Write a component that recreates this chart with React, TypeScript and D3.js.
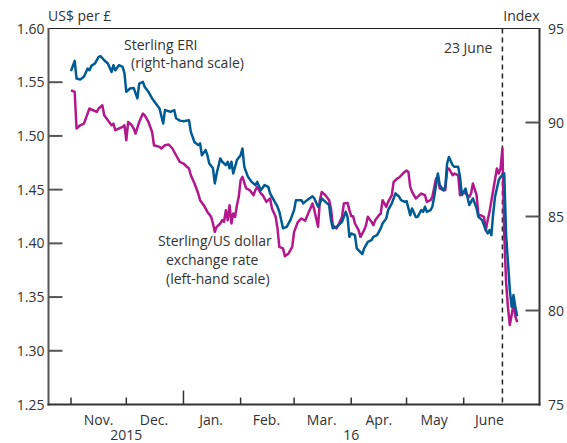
import React from "react";
import * as d3 from "d3";

// Sterling ERI (right-hand scale, index)
const eriData: [string, number][] = [
  ["2015-11-01", 92.73], ["2015-11-03", 93.28], ["2015-11-04", 92.34], ["2015-11-06", 92.29],
  ["2015-11-08", 92.43], ["2015-11-10", 92.87], ["2015-11-11", 92.78], ["2015-11-12", 93.01],
  ["2015-11-14", 93.14], ["2015-11-16", 93.49], ["2015-11-17", 93.53], ["2015-11-19", 93.31],
  ["2015-11-21", 93.14], ["2015-11-23", 92.69], ["2015-11-24", 93.05], ["2015-11-25", 92.78],
  ["2015-11-27", 93.05], ["2015-11-29", 92.96], ["2015-11-30", 92.61], ["2015-12-01", 91.63],
  ["2015-12-03", 91.81], ["2015-12-05", 91.84], ["2015-12-07", 91.28], ["2015-12-08", 92.07],
  ["2015-12-10", 92.16], ["2015-12-11", 91.89], ["2015-12-13", 91.63], ["2015-12-15", 91.28],
  ["2015-12-17", 91.01], ["2015-12-19", 90.75], ["2015-12-21", 89.95], ["2015-12-22", 90.66],
  ["2015-12-25", 90.57], ["2015-12-27", 90.66], ["2015-12-28", 90.23], ["2015-12-30", 90.1],
  ["2016-01-01", 90.07], ["2016-01-04", 90.12], ["2016-01-05", 89.5], ["2016-01-07", 88.95],
  ["2016-01-09", 88.8], ["2016-01-10", 88.89], ["2016-01-11", 88.26], ["2016-01-13", 88.53],
  ["2016-01-14", 88.26], ["2016-01-15", 87.82], ["2016-01-17", 87.56], ["2016-01-18", 86.76],
  ["2016-01-19", 87.29], ["2016-01-21", 88.09], ["2016-01-22", 87.91], ["2016-01-24", 87.73],
  ["2016-01-25", 87.91], ["2016-01-26", 87.56], ["2016-01-27", 87.91], ["2016-01-28", 87.29],
  ["2016-01-30", 88.0], ["2016-02-01", 88.26], ["2016-02-02", 88.62], ["2016-02-03", 87.64],
  ["2016-02-05", 87.11], ["2016-02-07", 86.84], ["2016-02-09", 86.67], ["2016-02-10", 86.84],
  ["2016-02-12", 86.4], ["2016-02-14", 86.67], ["2016-02-16", 86.58], ["2016-02-17", 86.23],
  ["2016-02-19", 85.87], ["2016-02-21", 85.52], ["2016-02-22", 85.25], ["2016-02-23", 84.81],
  ["2016-02-24", 84.37], ["2016-02-26", 84.45], ["2016-02-28", 84.81], ["2016-03-01", 85.34],
  ["2016-03-02", 85.87], ["2016-03-04", 85.87], ["2016-03-05", 85.87], ["2016-03-06", 85.7],
  ["2016-03-08", 85.87], ["2016-03-11", 86.08], ["2016-03-12", 85.96], ["2016-03-14", 85.52],
  ["2016-03-15", 85.7], ["2016-03-16", 85.96], ["2016-03-18", 85.78], ["2016-03-20", 85.61],
  ["2016-03-21", 84.81], ["2016-03-22", 84.37], ["2016-03-24", 84.45], ["2016-03-27", 84.72],
  ["2016-03-29", 85.25], ["2016-03-30", 84.98], ["2016-03-31", 83.92], ["2016-04-01", 84.1],
  ["2016-04-03", 84.01], ["2016-04-04", 83.3], ["2016-04-07", 83.0], ["2016-04-08", 83.3],
  ["2016-04-10", 83.65], ["2016-04-12", 83.74], ["2016-04-13", 83.92], ["2016-04-15", 84.01],
  ["2016-04-17", 84.37], ["2016-04-18", 84.63], ["2016-04-20", 84.9], ["2016-04-21", 85.34],
  ["2016-04-23", 85.7], ["2016-04-25", 86.23], ["2016-04-27", 86.05], ["2016-04-28", 85.87],
  ["2016-04-30", 85.78], ["2016-05-01", 85.82], ["2016-05-03", 85.07], ["2016-05-04", 85.43],
  ["2016-05-06", 84.98], ["2016-05-07", 84.98], ["2016-05-09", 85.34], ["2016-05-10", 85.25],
  ["2016-05-11", 85.52], ["2016-05-12", 85.25], ["2016-05-14", 85.34], ["2016-05-15", 85.52],
  ["2016-05-16", 86.05], ["2016-05-18", 87.29], ["2016-05-19", 86.67], ["2016-05-21", 86.4],
  ["2016-05-22", 86.58], ["2016-05-23", 87.82], ["2016-05-24", 88.17], ["2016-05-26", 87.73],
  ["2016-05-27", 87.64], ["2016-05-29", 87.64], ["2016-05-30", 87.11], ["2016-05-31", 86.14],
  ["2016-06-02", 86.49], ["2016-06-03", 86.05], ["2016-06-04", 85.61], ["2016-06-06", 85.96],
  ["2016-06-08", 85.43], ["2016-06-09", 84.98], ["2016-06-11", 84.81], ["2016-06-13", 84.28],
  ["2016-06-14", 84.1], ["2016-06-15", 84.28], ["2016-06-16", 84.01], ["2016-06-17", 85.16],
  ["2016-06-18", 86.05], ["2016-06-20", 86.93], ["2016-06-21", 87.11], ["2016-06-23", 87.29],
  ["2016-06-24", 84.0], ["2016-06-25", 82.6], ["2016-06-26", 81.1], ["2016-06-27", 80.2],
  ["2016-06-28", 80.82], ["2016-06-29", 80.2], ["2016-06-30", 79.7],
];

// Sterling/US dollar exchange rate (left-hand scale, US$ per £)
const usdData: [string, number][] = [
  ["2015-11-01", 1.5425], ["2015-11-03", 1.5409], ["2015-11-04", 1.5069], ["2015-11-06", 1.5099],
  ["2015-11-08", 1.5115], ["2015-11-10", 1.5208], ["2015-11-11", 1.5255], ["2015-11-13", 1.5239],
  ["2015-11-15", 1.5223], ["2015-11-16", 1.5255], ["2015-11-18", 1.5285], ["2015-11-19", 1.5192],
  ["2015-11-21", 1.5146], ["2015-11-23", 1.5099], ["2015-11-24", 1.5115], ["2015-11-25", 1.5053],
  ["2015-11-27", 1.5069], ["2015-11-29", 1.5084], ["2015-11-30", 1.5099], ["2015-12-01", 1.496],
  ["2015-12-02", 1.513], ["2015-12-04", 1.5099], ["2015-12-05", 1.5069], ["2015-12-06", 1.5022],
  ["2015-12-08", 1.513], ["2015-12-10", 1.5208], ["2015-12-11", 1.5192], ["2015-12-13", 1.513],
  ["2015-12-15", 1.5037], ["2015-12-16", 1.4913], ["2015-12-19", 1.4898], ["2015-12-20", 1.4883],
  ["2015-12-22", 1.4913], ["2015-12-24", 1.492], ["2015-12-26", 1.4883], ["2015-12-28", 1.482],
  ["2015-12-30", 1.4758], ["2016-01-01", 1.4743], ["2016-01-03", 1.4711], ["2016-01-04", 1.4697],
  ["2016-01-05", 1.4634], ["2016-01-07", 1.4557], ["2016-01-09", 1.4464], ["2016-01-10", 1.4402],
  ["2016-01-12", 1.4355], ["2016-01-14", 1.4293], ["2016-01-16", 1.4247], ["2016-01-17", 1.4185],
  ["2016-01-18", 1.4107], ["2016-01-19", 1.4154], ["2016-01-21", 1.4185], ["2016-01-22", 1.4216],
  ["2016-01-23", 1.42], ["2016-01-24", 1.4309], ["2016-01-25", 1.4216], ["2016-01-26", 1.4355],
  ["2016-01-27", 1.4185], ["2016-01-28", 1.4278], ["2016-01-29", 1.4247], ["2016-01-30", 1.4355],
  ["2016-01-31", 1.4433], ["2016-02-01", 1.4588], ["2016-02-02", 1.4619], ["2016-02-04", 1.4511],
  ["2016-02-06", 1.4495], ["2016-02-08", 1.4448], ["2016-02-09", 1.4495], ["2016-02-10", 1.4526],
  ["2016-02-12", 1.4464], ["2016-02-13", 1.4448], ["2016-02-15", 1.4386], ["2016-02-17", 1.4418],
  ["2016-02-18", 1.4325], ["2016-02-20", 1.4247], ["2016-02-21", 1.4139], ["2016-02-22", 1.3968],
  ["2016-02-24", 1.3953], ["2016-02-25", 1.3881], ["2016-02-27", 1.3906], ["2016-02-29", 1.3968],
  ["2016-03-01", 1.4107], ["2016-03-03", 1.4197], ["2016-03-05", 1.4232], ["2016-03-07", 1.421],
  ["2016-03-09", 1.4293], ["2016-03-11", 1.4371], ["2016-03-12", 1.4309], ["2016-03-13", 1.4232],
  ["2016-03-14", 1.4154], ["2016-03-15", 1.4402], ["2016-03-16", 1.4479], ["2016-03-18", 1.4448],
  ["2016-03-20", 1.4402], ["2016-03-21", 1.4325], ["2016-03-22", 1.4169], ["2016-03-24", 1.4139],
  ["2016-03-25", 1.4169], ["2016-03-27", 1.4247], ["2016-03-28", 1.4371], ["2016-03-30", 1.4377],
  ["2016-03-31", 1.4309], ["2016-04-01", 1.4253], ["2016-04-02", 1.4253], ["2016-04-03", 1.4185],
  ["2016-04-05", 1.4123], ["2016-04-06", 1.4061], ["2016-04-08", 1.4123], ["2016-04-09", 1.4169],
  ["2016-04-10", 1.4247], ["2016-04-12", 1.42], ["2016-04-13", 1.4169], ["2016-04-14", 1.4216],
  ["2016-04-16", 1.4262], ["2016-04-17", 1.4278], ["2016-04-18", 1.4402], ["2016-04-20", 1.434],
  ["2016-04-21", 1.4386], ["2016-04-23", 1.4448], ["2016-04-24", 1.4572], ["2016-04-26", 1.4604],
  ["2016-04-27", 1.4613], ["2016-04-29", 1.465], ["2016-05-01", 1.4678], ["2016-05-02", 1.4665],
  ["2016-05-03", 1.4526], ["2016-05-04", 1.4479], ["2016-05-06", 1.4418], ["2016-05-07", 1.4433],
  ["2016-05-09", 1.4464], ["2016-05-11", 1.4448], ["2016-05-12", 1.4386], ["2016-05-14", 1.4402],
  ["2016-05-15", 1.4433], ["2016-05-17", 1.4604], ["2016-05-18", 1.4619], ["2016-05-19", 1.4511],
  ["2016-05-21", 1.4495], ["2016-05-22", 1.4495], ["2016-05-23", 1.4681], ["2016-05-24", 1.4697],
  ["2016-05-26", 1.4634], ["2016-05-27", 1.465], ["2016-05-29", 1.4634], ["2016-05-30", 1.4448],
  ["2016-06-01", 1.4479], ["2016-06-02", 1.4464], ["2016-06-04", 1.4433], ["2016-06-05", 1.4464],
  ["2016-06-06", 1.4557], ["2016-06-08", 1.4448], ["2016-06-09", 1.4262], ["2016-06-10", 1.4262],
  ["2016-06-12", 1.4247], ["2016-06-13", 1.4123], ["2016-06-14", 1.4216], ["2016-06-15", 1.4293],
  ["2016-06-17", 1.4495], ["2016-06-19", 1.4697], ["2016-06-20", 1.465], ["2016-06-21", 1.4697],
  ["2016-06-22", 1.4883], ["2016-06-23", 1.4076], ["2016-06-24", 1.3639], ["2016-06-25", 1.3407],
  ["2016-06-26", 1.3239], ["2016-06-27", 1.3332], ["2016-06-28", 1.3435], ["2016-06-29", 1.3323],
  ["2016-06-30", 1.3267],
];

const monthStarts = ["2015-11-01", "2015-12-01", "2016-01-01", "2016-02-01", "2016-03-01", "2016-04-01", "2016-05-01", "2016-06-01"];
const monthLabels = ["Nov.", "Dec.", "Jan.", "Feb.", "Mar.", "Apr.", "May", "June"];
const monthMids = ["2015-11-16", "2015-12-16", "2016-01-16", "2016-02-15", "2016-03-16", "2016-04-16", "2016-05-16", "2016-06-15"];
const yearStart = "2016-01-01";
const yearLabels: [string, string][] = [["2015", "2015-12-01"], ["16", "2016-04-01"]];
const leftTicks = [1.25, 1.3, 1.35, 1.4, 1.45, 1.5, 1.55, 1.6];
const rightTicks = [75, 80, 85, 90, 95];
const eventDate = "2016-06-22";
const eventLabel = "23 June";

const W = 567;
const H = 443;
const L = 48.5;
const R = 539.5;
const T = 28.5;
const B = 404.5;

const parse = d3.utcParse("%Y-%m-%d");

export default function App() {
  const x = d3
    .scaleUtc()
    .domain([parse("2015-11-01")!, parse("2016-06-01")!])
    .range([71, 463.7]);
  const yL = d3.scaleLinear().domain([1.25, 1.6]).range([B, T]);
  const yR = d3.scaleLinear().domain([75, 95]).range([B, T]);

  const usdLine = d3
    .line<[string, number]>()
    .x((d) => x(parse(d[0])!))
    .y((d) => yL(d[1]));
  const eriLine = d3
    .line<[string, number]>()
    .x((d) => x(parse(d[0])!))
    .y((d) => yR(d[1]));

  const font = "'Open Sans', 'Noto Sans', sans-serif";
  const txt = "#333";
  const axisCol = "#555";
  const fs = 14;
  const ev = x(parse(eventDate)!);

  return (
    <svg
      width={W}
      height={H}
      style={{ position: "absolute", left: 0, top: 0, background: "#fff" }}
      fontFamily={font}
      fontSize={fs}
    >
      {/* frame */}
      <line x1={L} x2={R} y1={T} y2={T} stroke="#222" strokeWidth={1} />
      <line x1={L} x2={L} y1={T - 0.5} y2={B + 1} stroke={axisCol} strokeWidth={2} />
      <line x1={R} x2={R} y1={T - 0.5} y2={B + 1} stroke="#333" strokeWidth={2} />
      <line x1={L - 1} x2={R + 1} y1={B} y2={B} stroke="#333" strokeWidth={2} />

      {/* left ticks */}
      {leftTicks.map((v) => (
        <g key={"l" + v}>
          {v > 1.25 && v < 1.6 && (
            <line x1={L} x2={L + 14} y1={yL(v)} y2={yL(v)} stroke={axisCol} strokeWidth={2} />
          )}
          <text x={L - 4} y={yL(v) + 5} textAnchor="end" fill={txt}>
            {v.toFixed(2)}
          </text>
        </g>
      ))}

      {/* right ticks */}
      {rightTicks.map((v) => (
        <g key={"r" + v}>
          {v > 75 && v < 95 && (
            <line x1={R - 14} x2={R} y1={yR(v)} y2={yR(v)} stroke={axisCol} strokeWidth={2} />
          )}
          <text x={R + 8.5} y={yR(v) + 5} textAnchor="start" fill={txt}>
            {v}
          </text>
        </g>
      ))}

      {/* x ticks */}
      {monthStarts.map((d) => (
        <line
          key={d}
          x1={x(parse(d)!)}
          x2={x(parse(d)!)}
          y1={B}
          y2={d === yearStart ? B - 14 : B - 7}
          stroke="#333"
          strokeWidth={1.5}
        />
      ))}
      {monthLabels.map((m, i) => (
        <text key={m} x={x(parse(monthMids[i])!)} y={425} textAnchor="middle" fill={txt}>
          {m}
        </text>
      ))}
      {yearLabels.map(([lab, d]) => (
        <text key={lab} x={x(parse(d)!)} y={440} textAnchor="middle" fill={txt}>
          {lab}
        </text>
      ))}

      {/* axis titles */}
      <text x={48} y={21} fill={txt}>US$ per £</text>
      <text x={R} y={21} textAnchor="end" fill={txt}>Index</text>

      {/* event line */}
      <line x1={ev} x2={ev} y1={T} y2={B} stroke="#222" strokeWidth={1.5} strokeDasharray="5,4" />
      <text x={ev - 10} y={53} textAnchor="end" fill={txt}>{eventLabel}</text>

      {/* series */}
      <path d={usdLine(usdData)!} fill="none" stroke="#b2188c" strokeWidth={2.5} strokeLinejoin="round" />
      <path d={eriLine(eriData)!} fill="none" stroke="#005a94" strokeWidth={2.5} strokeLinejoin="round" />

      {/* annotations */}
      <text x={124} y={50} fill={txt}>Sterling ERI</text>
      <text x={131} y={68} fill={txt}>(right-hand scale)</text>
      <text x={158} y={246} fill={txt}>Sterling/US dollar</text>
      <text x={166} y={265} fill={txt}>exchange rate</text>
      <text x={166} y={283.5} fill={txt}>(left-hand scale)</text>
    </svg>
  );
}
